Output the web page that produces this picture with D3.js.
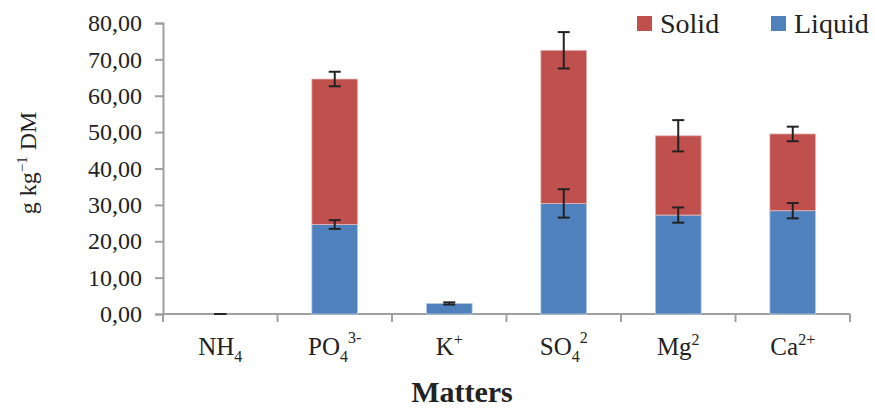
<!DOCTYPE html>
<html>
<head>
<meta charset="utf-8">
<script src="https://cdn.jsdelivr.net/npm/d3@7"></script>
<style>
  body { margin: 0; background: #fff; }
  svg { font-family: "Liberation Serif", serif; }
</style>
</head>
<body>
<svg id="chart" width="875" height="410"></svg>
<script>
// data
var categories = ["NH4", "PO4", "K", "SO4", "Mg", "Ca"];
var labelParts = [
  [["NH", ""], ["4", "sub"]],
  [["PO", ""], ["4", "sub"], ["3-", "sup"]],
  [["K", ""], ["+", "sup"]],
  [["SO", ""], ["4", "sub"], ["2", "sup"]],
  [["Mg", ""], ["2", "sup"]],
  [["Ca", ""], ["2+", "sup"]]
];
var seriesNames = ["Solid", "Liquid"];
var liquid = [0, 24.6, 2.9, 30.4, 27.2, 28.4];
var solid = [0, 40.0, 0, 42.1, 21.8, 21.1];
var liquidErr = [0, 1.2, 0.3, 3.9, 2.1, 2.1];
var solidErr = [0, 2.0, 0, 5.0, 4.3, 2.0];
var yTicks = [0, 10, 20, 30, 40, 50, 60, 70, 80];

var svg = d3.select("#chart");
var mLeft = 163, mRight = 850, mTop = 23, mBottom = 314;
var colors = { Solid: "#c0504d", Liquid: "#4f81bd" };

var xb = d3.scaleLinear().domain([0, categories.length]).range([mLeft, mRight]);
var x = d3.scaleBand().domain(categories).range([mLeft, mRight]).paddingInner(0.6).paddingOuter(0.3);
var y = d3.scaleLinear().domain([0, 80]).range([mBottom, mTop]);

var axisColor = "#a0a0a0";

// y axis
var yAxis = d3.axisLeft(y).tickValues(yTicks).tickSize(8).tickPadding(13)
  .tickFormat(function(d) { return d3.format(".2f")(d).replace(".", ","); });
var gy = svg.append("g").attr("transform", "translate(" + mLeft + ",0)").call(yAxis);
gy.select(".domain").attr("stroke", axisColor).attr("stroke-width", 2);
gy.selectAll(".tick line").attr("stroke", axisColor).attr("stroke-width", 2);
gy.selectAll("text").attr("font-size", "24px").attr("fill", "#222").attr("font-family", "Liberation Serif");

// x axis line + ticks between categories
svg.append("line").attr("x1", mLeft).attr("x2", mRight).attr("y1", mBottom).attr("y2", mBottom)
  .attr("stroke", axisColor).attr("stroke-width", 2);
svg.selectAll(".xtick").data(d3.range(categories.length + 1)).enter().append("line")
  .attr("x1", function(d) { return xb(d); }).attr("x2", function(d) { return xb(d); })
  .attr("y1", mBottom).attr("y2", mBottom + 8)
  .attr("stroke", axisColor).attr("stroke-width", 2);

// bars
var cx = function(i) { return x(categories[i]) + x.bandwidth() / 2; };
var bw = x.bandwidth();

svg.selectAll(".liq").data(liquid).enter().append("rect")
  .attr("x", function(d, i) { return x(categories[i]); })
  .attr("y", function(d) { return y(d); })
  .attr("width", bw)
  .attr("height", function(d) { return y(0) - y(d); })
  .attr("fill", colors.Liquid).attr("stroke", "#b9cde5").attr("stroke-width", 0.8);

svg.selectAll(".sol").data(solid).enter().append("rect")
  .attr("x", function(d, i) { return x(categories[i]); })
  .attr("y", function(d, i) { return y(liquid[i] + d); })
  .attr("width", bw)
  .attr("height", function(d, i) { return y(liquid[i]) - y(liquid[i] + d); })
  .attr("fill", colors.Solid).attr("stroke", "#e6b9b8").attr("stroke-width", 0.8)
  .style("display", function(d) { return d > 0 ? null : "none"; });

// error bars
function errBars(tops, errs, skip) {
  var g = svg.append("g").attr("stroke", "#222").attr("stroke-width", 2);
  tops.forEach(function(t, i) {
    if (skip && skip(i)) return;
    var e = errs[i], c = cx(i);
    g.append("line").attr("x1", c).attr("x2", c).attr("y1", y(t + e)).attr("y2", y(t - e));
    g.append("line").attr("x1", c - 6).attr("x2", c + 6).attr("y1", y(t + e)).attr("y2", y(t + e));
    g.append("line").attr("x1", c - 6).attr("x2", c + 6).attr("y1", y(t - e)).attr("y2", y(t - e));
  });
}
errBars(liquid, liquidErr);
var solidTops = solid.map(function(d, i) { return liquid[i] + d; });
errBars(solidTops, solidErr, function(i) { return solid[i] <= 0; });

// category labels
labelParts.forEach(function(parts, i) {
  var t = svg.append("text").attr("x", cx(i)).attr("y", 355).attr("text-anchor", "middle")
    .attr("font-size", "25px").attr("fill", "#222");
  var prev = "";
  parts.forEach(function(p) {
    var ts = t.append("tspan").text(p[0]);
    if (p[1] == "sub") ts.attr("font-size", "16px").attr("dy", 7);
    if (p[1] == "sup") ts.attr("font-size", "16px").attr("dy", prev == "sub" ? -19 : -10);
    prev = p[1];
  });
});

// y axis title
var yt = svg.append("text").attr("transform", "translate(36,163) rotate(-90)")
  .attr("text-anchor", "middle").attr("font-size", "24px").attr("fill", "#222");
yt.append("tspan").text("g kg");
yt.append("tspan").text("\u22121").attr("font-size", "15px").attr("dy", -9);
yt.append("tspan").text(" DM").attr("dy", 9);

// x axis title
svg.append("text").attr("x", 462).attr("y", 402).attr("text-anchor", "middle")
  .attr("font-size", "30px").attr("font-weight", "bold").attr("fill", "#222").text("Matters");

// legend
var legX = [637, 771];
var leg = svg.selectAll(".leg").data(seriesNames).enter().append("g")
  .attr("transform", function(d, i) { return "translate(" + legX[i] + ",16)"; });
leg.append("rect").attr("width", 15).attr("height", 15).attr("fill", function(d) { return colors[d]; });
leg.append("text").attr("x", 23).attr("y", 17).attr("font-size", "28px").attr("fill", "#222")
  .text(function(d) { return d; });
</script>
</body>
</html>
